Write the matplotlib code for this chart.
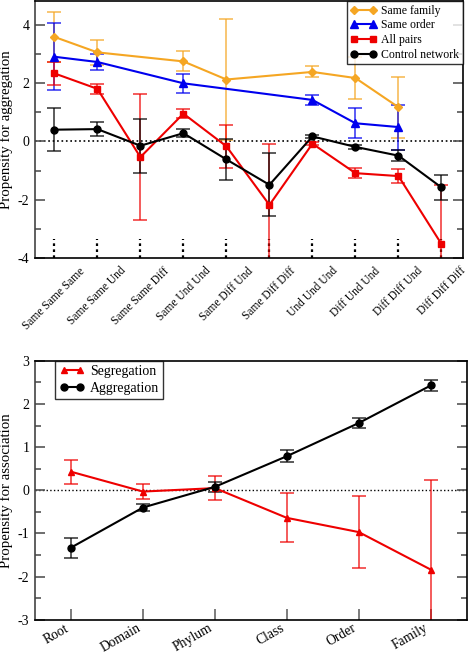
import matplotlib
matplotlib.use("Agg")
import matplotlib.pyplot as plt
import numpy as np
from matplotlib.ticker import MultipleLocator

plt.rcParams['font.family'] = ['Liberation Serif', 'DejaVu Serif']
plt.rcParams['axes.unicode_minus'] = False

# ---- top panel data ----
categories = ["Same Same Same", "Same Same Und", "Same Same Diff", "Same Und Und",
              "Same Diff Und", "Same Diff Diff", "Und Und Und", "Diff Und Und",
              "Diff Diff Und", "Diff Diff Diff"]
nan = np.nan
family_vals = [3.58, 3.05, nan, 2.74, 2.12, nan, 2.38, 2.17, 1.17, nan]
family_err = [0.85, 0.44, nan, 0.34, 2.07, nan, 0.19, 0.71, 1.05, nan]
order_vals = [2.90, 2.72, nan, 1.99, nan, nan, 1.42, 0.62, 0.49, nan]
order_err = [1.15, 0.27, nan, 0.32, nan, nan, 0.17, 0.52, 0.77, nan]
pairs_vals = [2.33, 1.80, -0.54, 0.95, -0.17, -2.18, -0.08, -1.09, -1.19, -3.52]
pairs_err = [0.40, 0.16, 2.17, 0.15, 0.74, 2.08, 0.05, 0.18, 0.24, 2.04]
control_vals = [0.40, 0.42, -0.15, 0.28, -0.62, -1.49, 0.17, -0.19, -0.49, -1.58]
control_err = [0.73, 0.24, 0.92, 0.14, 0.71, 1.08, 0.06, 0.08, 0.20, 0.44]

# ---- bottom panel data ----
levels = ["Root", "Domain", "Phylum", "Class", "Order", "Family"]
seg_vals = [0.43, -0.03, 0.05, -0.64, -0.97, -1.84]
seg_err = [0.28, 0.18, 0.28, 0.57, 0.84, 2.08]
agg_vals = [-1.33, -0.40, 0.08, 0.79, 1.56, 2.43]
agg_err = [0.23, 0.09, 0.11, 0.14, 0.12, 0.13]

fig = plt.figure(figsize=(4.68, 6.55), dpi=100)
ax1 = fig.add_axes([0.0748, 0.606, 0.9145, 0.392])
ax2 = fig.add_axes([0.0748, 0.054, 0.9225, 0.395])

def series(ax, x, vals, err, color, marker, ms, label):
    x = np.asarray(x, float)
    v = np.asarray(vals, float)
    e = np.asarray(err, float)
    m = ~np.isnan(v)
    ax.errorbar(x[m], v[m], yerr=e[m], fmt='none', ecolor=color, alpha=0.75,
                elinewidth=1.2, capsize=5, capthick=1.2, zorder=2)
    ax.plot(x[m], v[m], '-', color=color, marker=marker, ms=ms, lw=1.5,
            label=label, zorder=3)

x1 = np.arange(1, len(categories) + 1)
series(ax1, x1, family_vals, family_err, '#f5a623', 'D', 4.5, 'Same family')
series(ax1, x1, order_vals, order_err, '#0000ee', '^', 6, 'Same order')
series(ax1, x1, pairs_vals, pairs_err, '#ee0000', 's', 4.5, 'All pairs')
series(ax1, x1, control_vals, control_err, 'black', 'o', 5, 'Control network')
ax1.axhline(0, color='black', ls=':', lw=1.2, zorder=1)
ax1.set_xlim(0.55, 10.5)
ax1.set_ylim(-4, 4.8)
ax1.yaxis.set_major_locator(MultipleLocator(2))
ax1.yaxis.set_minor_locator(MultipleLocator(1))
ax1.set_xticks(x1)
ax1.set_xticklabels(categories, rotation=45, ha='center', fontsize=8.3)
ax1.tick_params(axis='x', length=0, pad=5)
ax1.tick_params(axis='y', which='both', direction='in', right=True, color='#555555',
                labelsize=10, pad=4)
ax1.tick_params(axis='y', which='major', length=7, width=1.2)
ax1.tick_params(axis='y', which='minor', length=4, width=1.2)
ax1.vlines(x1, -4, -3.35, colors='black', linestyles=(0, (1.2, 1.5)), lw=1.6, zorder=1)
ax1.set_ylabel('Propensity for aggregation', fontsize=10.7)
ax1.yaxis.set_label_coords(-0.051, 0.5)
leg = ax1.legend(loc='upper right', numpoints=2, fontsize=8.5, frameon=True, fancybox=False,
                 borderaxespad=0, handlelength=2.2, handletextpad=0.4, labelspacing=0.22,
                 borderpad=0.3)
leg.get_frame().set_edgecolor('black')
leg.get_frame().set_linewidth(1.0)

x2 = np.arange(1, len(levels) + 1)
series(ax2, x2, seg_vals, seg_err, '#ee0000', '^', 4.5, 'Segregation')
series(ax2, x2, agg_vals, agg_err, 'black', 'o', 5, 'Aggregation')
ax2.axhline(0, color='black', ls=':', lw=1.0, zorder=1)
ax2.set_xlim(0.5, 6.5)
ax2.set_ylim(-3, 3)
ax2.yaxis.set_major_locator(MultipleLocator(1))
ax2.yaxis.set_minor_locator(MultipleLocator(0.5))
ax2.set_xticks(x2)
ax2.set_xticklabels(levels, rotation=30, ha='right', fontsize=9.8)
ax2.tick_params(axis='x', direction='in', length=8, width=1.2, color='#666666', pad=1.5)
ax2.tick_params(axis='y', which='both', direction='in', right=True, color='#555555',
                labelsize=10, pad=4)
ax2.tick_params(axis='y', which='major', length=7, width=1.2)
ax2.tick_params(axis='y', which='minor', length=4, width=1.2)
ax2.set_ylabel('Propensity for association', fontsize=10.7)
ax2.yaxis.set_label_coords(-0.051, 0.5)
leg2 = ax2.legend(loc='upper left', bbox_to_anchor=(0.047, 1.0), numpoints=2, fontsize=10,
                  frameon=True, fancybox=False, borderaxespad=0, handlelength=1.8,
                  handletextpad=0.4, labelspacing=0.3, borderpad=0.3)
leg2.get_frame().set_edgecolor('black')
leg2.get_frame().set_linewidth(1.0)

for ax in (ax1, ax2):
    for s in ax.spines.values():
        s.set_linewidth(1.2)
    ax.spines['left'].set_color('#444444')

fig.savefig('out.png', dpi=100)
